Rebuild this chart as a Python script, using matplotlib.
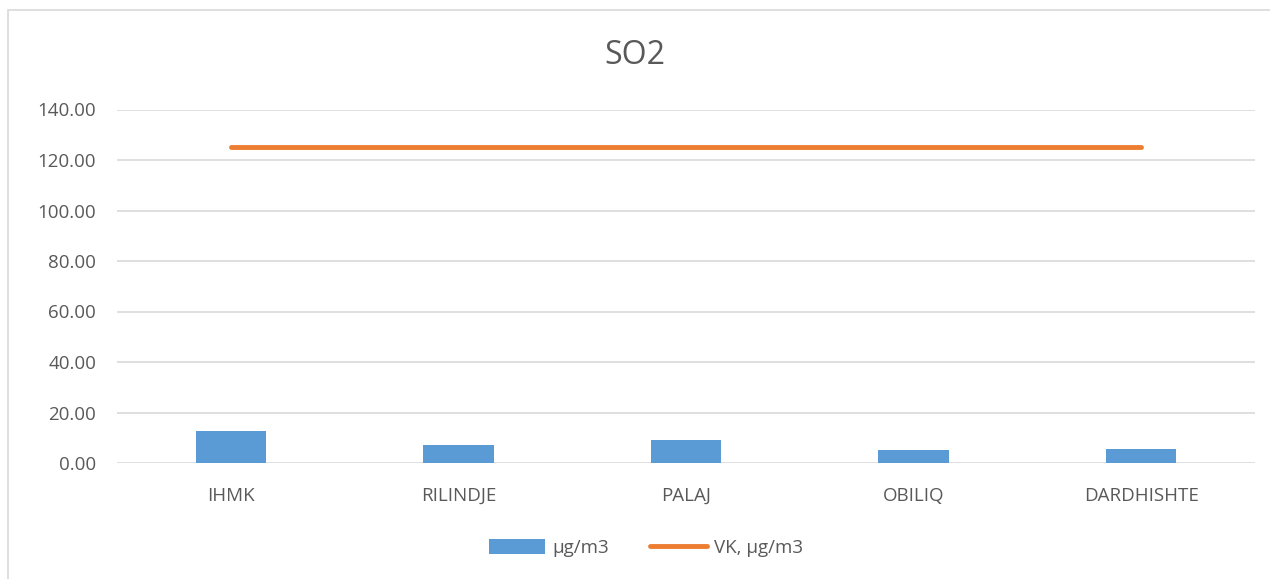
import matplotlib
matplotlib.use("Agg")
import matplotlib.pyplot as plt
from matplotlib.patches import Rectangle
from matplotlib.lines import Line2D
from matplotlib.patches import Patch

categories = ["IHMK", "RILINDJE", "PALAJ", "OBILIQ", "DARDHISHTE"]
so2_values = [12.7, 7.1, 9.1, 5.0, 5.7]
vk_values = [125, 125, 125, 125, 125]
yticks = [0, 20, 40, 60, 80, 100, 120, 140]

plt.rcParams['font.family'] = ['Open Sans', 'DejaVu Sans']
text_color = "#595959"

fig = plt.figure(figsize=(12.7, 5.79), dpi=100)
fig.patches.append(Rectangle((8/1270, -0.01), 1.1, 1 - 10/579 + 0.01, transform=fig.transFigure,
                             fill=False, edgecolor="#D9D9D9", linewidth=1.2))
ax = fig.add_axes([117/1270, 1 - 463/579, (1255-117)/1270, (463-109.5)/579])

x = list(range(len(categories)))
ax.bar(x, so2_values, width=0.31, color="#5B9BD5", zorder=3, label="µg/m3")
ax.plot(x, vk_values, color="#ED7D31", linewidth=3.5, solid_capstyle="round", zorder=4, label="VK, µg/m3")

ax.set_xlim(-0.5, len(categories) - 0.5)
ax.set_ylim(0, 140)
ax.set_yticks(yticks)
ax.set_yticklabels([f"{v:.2f}" for v in yticks], fontsize=13.5, color=text_color)
ax.set_xticks(x)
ax.set_xticklabels(categories, fontsize=13.5, color=text_color)
ax.tick_params(axis="both", length=0)
ax.tick_params(axis="y", pad=15)
ax.tick_params(axis="x", pad=17)
ax.yaxis.grid(True, color="#D9D9D9", linewidth=1.2, zorder=0)
for s in ax.spines.values():
    s.set_visible(False)

fig.text(0.5, 1 - 56/579, "SO2", ha="center", va="center", fontsize=23, color=text_color)

handles = [Patch(facecolor="#5B9BD5", edgecolor="none"),
           Line2D([0], [0], color="#ED7D31", linewidth=3.5, solid_capstyle="round")]
fig.legend(handles, ["µg/m3", "VK, µg/m3"], loc="center", bbox_to_anchor=(0.5 + 11/1270, 1 - 548/579),
           ncol=2, frameon=False, fontsize=13.5, labelcolor=text_color,
           handlelength=3.0, handleheight=0.9, columnspacing=2.2, handletextpad=0.4)

fig.savefig("out.png", dpi=100)
